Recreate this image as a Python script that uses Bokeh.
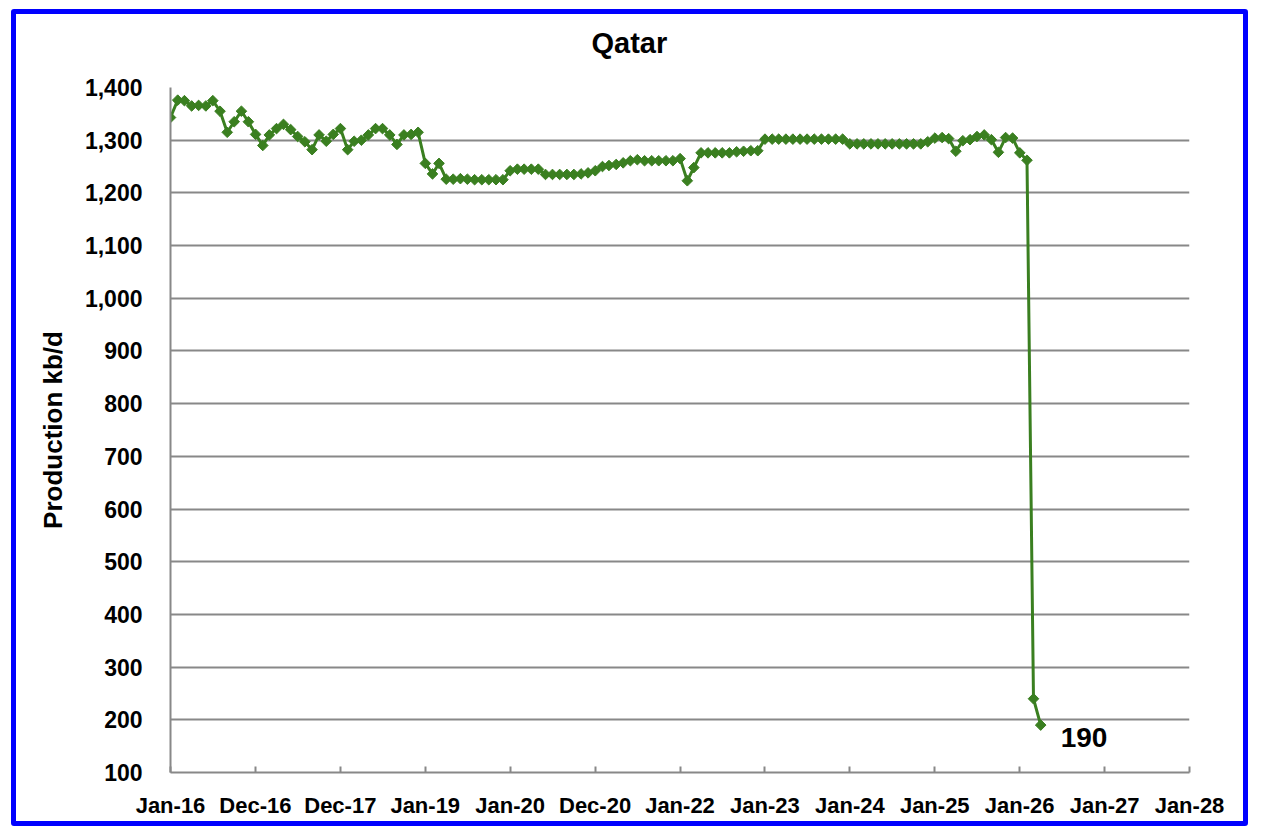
import math
import datetime as dt
from bokeh.plotting import figure
from bokeh.layouts import column
from bokeh.models import FixedTicker, NumeralTickFormatter, Label, ColumnDataSource, Title
from bokeh.embed import file_html
from bokeh.resources import INLINE

# ---- data ----
title_text = "Qatar"
start_month = "2016-01"
production = [
    1343, 1376, 1375, 1365, 1366, 1365, 1375, 1355, 1315, 1335, 1355, 1335,
    1311, 1290, 1310, 1322, 1330, 1320, 1307, 1297, 1282, 1310, 1298, 1311,
    1322, 1282, 1298, 1300, 1310, 1322, 1322, 1310, 1292, 1310, 1311, 1315,
    1256, 1236, 1256, 1226, 1226, 1227, 1226, 1225, 1225, 1225, 1225, 1225,
    1242, 1245, 1245, 1245, 1245, 1235, 1235, 1235, 1235, 1235, 1236, 1238,
    1242, 1250, 1252, 1254, 1257, 1261, 1263, 1261, 1261, 1261, 1261, 1261,
    1265, 1223, 1248, 1276, 1276, 1276, 1276, 1276, 1278, 1279, 1280, 1280,
    1302, 1302, 1302, 1302, 1302, 1302, 1302, 1302, 1302, 1302, 1302, 1302,
    1293, 1293, 1293, 1293, 1293, 1293, 1293, 1293, 1293, 1293, 1293, 1297,
    1304, 1305, 1303, 1279, 1299, 1301, 1307, 1310, 1301, 1277, 1305, 1304,
    1276, 1262, 240, 190,
]
x_tick_labels = ["Jan-16", "Dec-16", "Dec-17", "Jan-19", "Jan-20", "Dec-20", "Jan-22",
                 "Jan-23", "Jan-24", "Jan-25", "Jan-26", "Jan-27", "Jan-28"]
y_ticks = [100, 200, 300, 400, 500, 600, 700, 800, 900, 1000, 1100, 1200, 1300, 1400]

# days since Jan 1 2016 for each monthly value
base = dt.date(2016, 1, 1)
y0, m0 = map(int, start_month.split("-"))
days = []
for i in range(len(production)):
    mm = m0 - 1 + i
    d = dt.date(y0 + mm // 12, mm % 12 + 1, 1)
    days.append((d - base).days)

tick_pos = [i * 365.25 for i in range(len(x_tick_labels))]

src = ColumnDataSource(data=dict(x=days, y=production))

FONT = "Liberation Sans"
GREEN = "#3a7f20"
GRAY = "#888888"

W, H = 1227, 807
p = figure(width=W, height=H, output_backend="svg", toolbar_location=None,
           x_range=(0, tick_pos[-1]), y_range=(y_ticks[0], y_ticks[-1]),
           min_border_left=154, min_border_right=54, min_border_top=73, min_border_bottom=49,
           title=title_text)
p.outline_line_color = None
p.background_fill_color = "white"
p.border_fill_color = "white"

p.title.text_font = FONT
p.title.text_font_style = "bold"
p.title.text_font_size = "29px"
p.title.text_color = "black"
p.title.align = "left"
p.title.offset = 421

# small empty spacer between the title and the plot frame
p.add_layout(Title(text=" ", text_font_size="20px", standoff=0), "above")

p.line("x", "y", source=src, line_color=GREEN, line_width=3)
p.scatter("x", "y", source=src, marker="square", size=7.5, angle=math.pi / 4,
          fill_color=GREEN, line_color=GREEN)

# axes
p.xaxis.ticker = FixedTicker(ticks=tick_pos)
p.xaxis.major_label_overrides = {t: lab for t, lab in zip(tick_pos, x_tick_labels)}
p.yaxis.ticker = FixedTicker(ticks=y_ticks)
p.yaxis.formatter = NumeralTickFormatter(format="0,0")
for ax in (p.xaxis, p.yaxis):
    ax.axis_line_color = GRAY
    ax.axis_line_width = 2
    ax.major_label_text_font = FONT
    ax.major_label_text_font_style = "bold"
    ax.major_label_text_font_size = "23px"
    ax.major_label_text_color = "black"
    ax.minor_tick_line_color = None
p.xaxis.major_label_text_font_size = "22px"
p.xaxis.major_tick_in = 6
p.xaxis.major_tick_out = 0
p.xaxis.major_tick_line_color = GRAY
p.xaxis.major_tick_line_width = 2
p.xaxis.major_label_standoff = 20
p.yaxis.major_tick_line_color = None
p.yaxis.major_label_standoff = 22
p.yaxis.axis_label = "Production kb/d"
p.yaxis.axis_label_text_font = FONT
p.yaxis.axis_label_text_font_style = "bold"
p.yaxis.axis_label_text_font_size = "26px"
p.yaxis.axis_label_text_color = "black"
p.yaxis.axis_label_standoff = 14

p.xgrid.grid_line_color = None
p.ygrid.grid_line_color = GRAY
p.ygrid.grid_line_width = 2

last = Label(x=days[-1], y=production[-1], text=str(production[-1]), x_offset=20, y_offset=-12,
             text_baseline="middle", text_font=FONT, text_font_style="bold",
             text_font_size="28px", text_color="black")
p.add_layout(last)

# outer blue frame around the whole chart
layout = column(p, margin=(9, 0, 0, 11),
                styles={"border": "5px solid #0000ff", "border-radius": "3px",
                        "background-color": "white"})

open("out.html", "w").write(file_html(layout, INLINE))
